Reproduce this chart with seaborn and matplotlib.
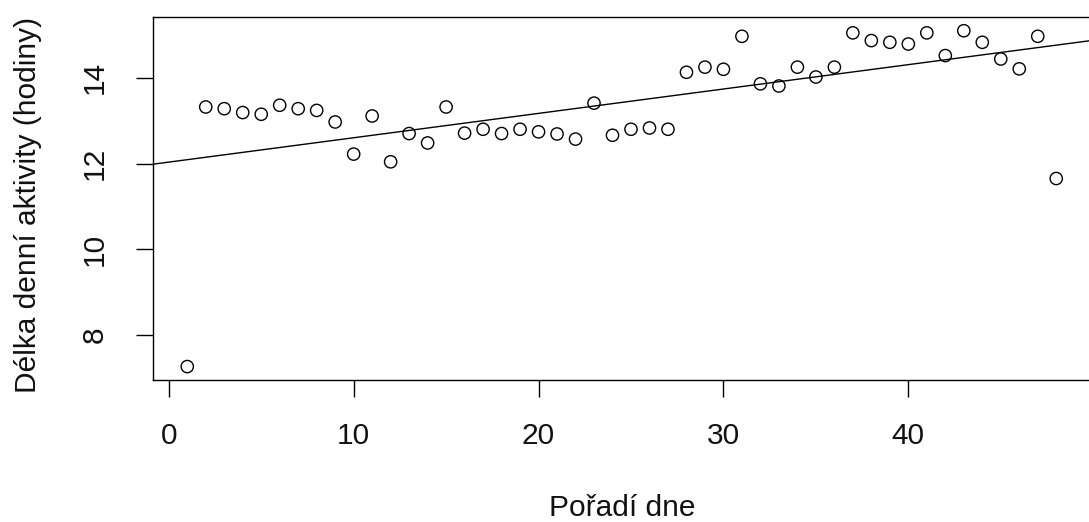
import numpy as np
import pandas as pd
import matplotlib
matplotlib.use("Agg")
import matplotlib.pyplot as plt
import seaborn as sns

days = list(range(1, 49))
hours = [7.26, 13.32, 13.28, 13.19, 13.15, 13.36, 13.28, 13.24, 12.97, 12.22,
         13.11, 12.04, 12.70, 12.48, 13.32, 12.71, 12.80, 12.70, 12.80, 12.74,
         12.69, 12.57, 13.41, 12.66, 12.80, 12.83, 12.80, 14.13, 14.25, 14.20,
         14.97, 13.86, 13.81, 14.25, 14.02, 14.25, 15.05, 14.87, 14.83, 14.79,
         15.05, 14.52, 15.10, 14.83, 14.44, 14.21, 14.97, 11.65]
x_ticks = [0, 10, 20, 30, 40]
y_ticks = [8, 10, 12, 14]
x_label = "Pořadí dne"
y_label = "Délka denní aktivity (hodiny)"

df = pd.DataFrame({"den": days, "hodiny": hours})

sns.set_style("white")
plt.rcParams["font.family"] = ["Liberation Sans", "DejaVu Sans"]

W, H = 1089, 522
fig = plt.figure(figsize=(W / 100, H / 100), dpi=100)
left, right, bottom, top = 152.5, 1091, 380, 17.3
ax = fig.add_axes([left / W, 1 - bottom / H, (right - left) / W, (bottom - top) / H])

xr = (min(days), max(days))
yr = (min(hours), max(hours))
xpad = (xr[1] - xr[0]) * 0.04
ypad = (yr[1] - yr[0]) * 0.04
ax.set_xlim(xr[0] - xpad, xr[1] + xpad)
ax.set_ylim(yr[0] - ypad, yr[1] + ypad)

sns.scatterplot(data=df, x="den", y="hodiny", ax=ax, marker="o", s=78,
                facecolor="none", edgecolor="black", linewidth=1.0, zorder=3)
sns.regplot(data=df, x="den", y="hodiny", ax=ax, scatter=False, ci=None,
            truncate=False, line_kws={"color": "black", "linewidth": 1.0})
ax.set_xlim(xr[0] - xpad, xr[1] + xpad)
ax.set_ylim(yr[0] - ypad, yr[1] + ypad)

ax.set_xticks(x_ticks)
ax.set_yticks(y_ticks)
ax.set_yticklabels([str(v) for v in y_ticks], rotation=90, va="center")
ax.tick_params(axis="both", which="major", length=12.2, width=1.0, color="black",
               labelsize=21.5, labelcolor="#111111", direction="out",
               bottom=True, left=True)
ax.tick_params(axis="x", pad=18)
ax.tick_params(axis="y", pad=19)
for s in ax.spines.values():
    s.set_color("black")
    s.set_linewidth(1.0)

ax.set_xlabel("")
ax.set_ylabel("")
fig.text(622 / W, 1 - 508 / H, x_label, ha="center", va="center",
         fontsize=21.5, color="#111111")
fig.text(28 / W, 1 - 205 / H, y_label, ha="center", va="center",
         rotation=90, fontsize=21.5, color="#111111")

fig.savefig("out.png", dpi=100)
